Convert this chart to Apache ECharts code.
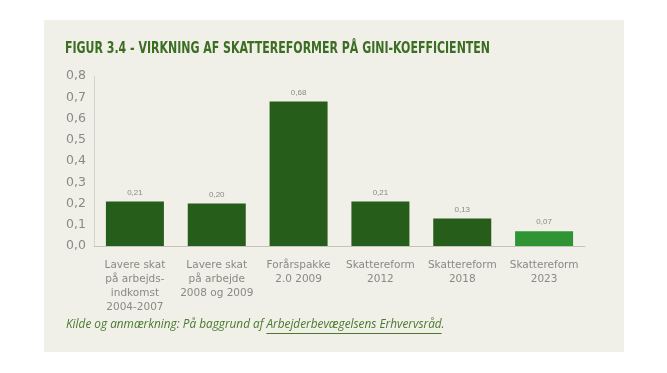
<!DOCTYPE html>
<html><head><meta charset="utf-8">
<script src="https://cdn.jsdelivr.net/npm/echarts@6/dist/echarts.min.js"></script>
<style>html,body{margin:0;padding:0;background:#fff}#c{width:667px;height:373px}</style>
</head><body><div id="c"></div>
<script>
const categories = ["Lavere skat\npå arbejds-\nindkomst\n2004-2007", "Lavere skat\npå arbejde\n2008 og 2009", "Forårspakke\n2.0 2009", "Skattereform\n2012", "Skattereform\n2018", "Skattereform\n2023"];
const values = [0.21, 0.20, 0.68, 0.21, 0.13, 0.07];
const barColors = ["#275d1b", "#275d1b", "#275d1b", "#275d1b", "#275d1b", "#2f9433"];
const titleText = "FIGUR 3.4 - VIRKNING AF SKATTEREFORMER PÅ GINI-KOEFFICIENTEN";
const sourcePrefix = "Kilde og anmærkning: På baggrund af ";
const sourceLink = "Arbejderbevægelsens Erhvervsråd";

const footFont = 'italic 11.8px "Open Sans", sans-serif';
const titleFont = 'bold 16px "DejaVu Sans Condensed", sans-serif';
const cv = document.createElement('canvas').getContext('2d');
cv.font = footFont;
const prefixW = cv.measureText(sourcePrefix).width;
const linkW = cv.measureText(sourceLink).width;
cv.font = titleFont;
const titleW = cv.measureText(titleText).width;
const titleScale = 425 / titleW;

const chart = echarts.init(document.getElementById('c'), null, {renderer: 'canvas'});
const fmt = v => v.toFixed(1).replace('.', ',');
chart.setOption({
  backgroundColor: '#ffffff',
  animation: false,
  graphic: [
    {type: 'rect', shape: {x: 44, y: 20, width: 580, height: 332}, style: {fill: '#f0efe8'}, z: -10},
    {type: 'text', x: 65, y: 41, scaleX: titleScale, style: {text: titleText, fill: '#3b6d22', font: titleFont}},
    {type: 'text', x: 66, y: 319, style: {
      text: sourcePrefix + sourceLink + '.', fill: '#4a7a2e', font: footFont
    }},
    {type: 'line', shape: {x1: 66 + prefixW, y1: 333.5, x2: 66 + prefixW + linkW, y2: 333.5}, style: {stroke: '#4a7a2e', lineWidth: 1}}
  ],
  grid: {left: 94, right: 82, top: 76, bottom: 127},
  xAxis: {
    type: 'category', data: categories,
    axisLine: {lineStyle: {color: '#c4c4bc'}},
    axisTick: {show: false},
    axisLabel: {color: '#8a8a84', fontSize: 10.5, lineHeight: 14, margin: 12, interval: 0, fontFamily: '"DejaVu Sans", sans-serif'}
  },
  yAxis: {
    type: 'value', min: 0, max: 0.8, interval: 0.1,
    axisLine: {show: true, lineStyle: {color: '#d4d4cc'}},
    splitLine: {show: false},
    axisLabel: {color: '#8a8a84', fontSize: 12.5, margin: 8, formatter: fmt, fontFamily: '"DejaVu Sans", sans-serif'}
  },
  series: [{
    type: 'bar', barWidth: 58,
    data: values.map((v, i) => ({value: v, itemStyle: {color: barColors[i]}})),
    label: {show: true, position: 'top', distance: 5, color: '#8a8a84', fontSize: 8,
      formatter: p => p.value.toFixed(2).replace('.', ',')}
  }]
});
</script></body></html>
